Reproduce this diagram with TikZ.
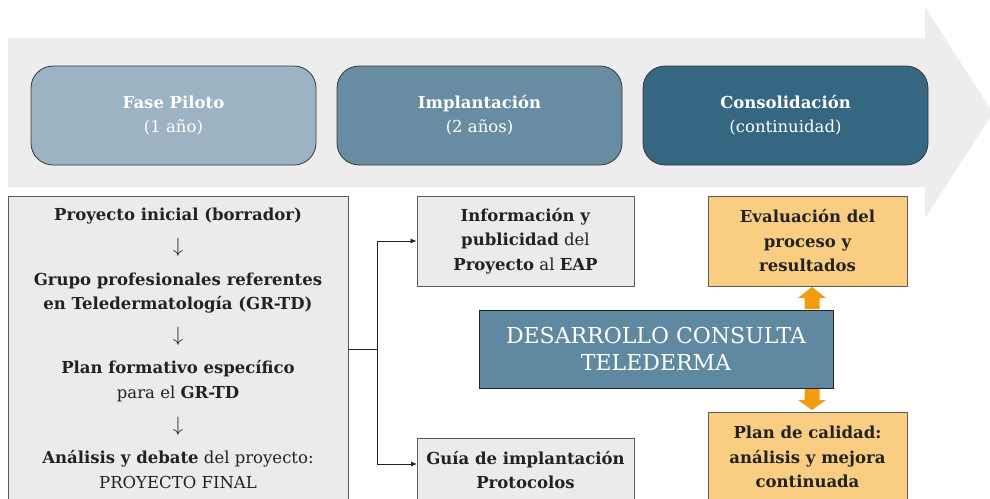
\documentclass[tikz,border=0pt]{standalone}
\usepackage{fontspec}
\setmainfont{DejaVu Serif}
\usetikzlibrary{arrows.meta}
\definecolor{band}{HTML}{EDEDED}
\definecolor{phaseA}{HTML}{9CB3C3}
\definecolor{phaseB}{HTML}{688DA3}
\definecolor{phaseC}{HTML}{356783}
\definecolor{boxgray}{HTML}{EAEBEA}
\definecolor{boxline}{HTML}{5A5A5A}
\definecolor{desa}{HTML}{5F88A1}
\definecolor{ocre}{HTML}{F9CE82}
\definecolor{orangearr}{HTML}{F39C12}
\definecolor{ink}{HTML}{222222}
\tikzset{
  phase/.style={draw=ink!90, line width=0.8pt, rounded corners=22pt, minimum width=285pt, minimum height=99pt, text=white, align=center, font=\fontsize{16.5}{24}\selectfont, inner sep=0pt},
  graybox/.style={draw=boxline, line width=0.9pt, fill=boxgray, align=center, text=ink, font=\fontsize{16.5}{24.5}\selectfont, inner sep=0pt},
  ocrebox/.style={draw=boxline, line width=0.9pt, fill=ocre, align=center, text=ink, font=\fontsize{16.5}{24.5}\selectfont\bfseries, inner sep=0pt},
  conn/.style={draw=ink, line width=0.8pt},
  txt/.style={align=center, text=ink, font=\fontsize{16.5}{24.5}\selectfont, inner sep=0pt},
  downmark/.style={align=center, text=ink, font=\fontsize{21}{24}\selectfont, inner sep=0pt}
}
\begin{document}
\begin{tikzpicture}[x=1pt,y=-1pt]
\useasboundingbox (0,0) rectangle (990,498);
\clip (0,0) rectangle (990,498);
% big background arrow
\fill[band] (8,38) -- (925,38) -- (925,7) -- (993,113) -- (925,218) -- (925,187) -- (8,187) -- cycle;
% phases
\node[phase, fill=phaseA] (p1) at (173.5,115.5) {\textbf{Fase Piloto}\\(1 año)};
\node[phase, fill=phaseB] (p2) at (479.5,115.5) {\textbf{Implantación}\\(2 años)};
\node[phase, fill=phaseC] (p3) at (785.5,115.5) {\textbf{Consolidación}\\(continuidad)};
% left box
\node[graybox, minimum width=340pt, minimum height=306pt] (left) at (178,349) {};
\node[txt] (l1) at (178,216) {\textbf{Proyecto inicial (borrador)}};
\node[downmark] (a1) at (178,247) {$\downarrow$};
\node[txt] (l2) at (178,293) {\textbf{Grupo profesionales referentes}\\\textbf{en Teledermatología (GR-TD)}};
\node[downmark] (a2) at (178,336) {$\downarrow$};
\node[txt] (l3) at (178,381) {\textbf{Plan formativo específico}\\para el \textbf{GR-TD}};
\node[downmark] (a3) at (178,426) {$\downarrow$};
\node[txt] (l4) at (178,469.5) {\textbf{Análisis y debate} del proyecto:\\PROYECTO FINAL};
% middle boxes
\node[graybox, minimum width=217pt, minimum height=90pt] (info) at (525.5,241) {\textbf{Información y}\\\textbf{publicidad} del\\\textbf{Proyecto} al \textbf{EAP}};
\node[graybox, minimum width=217pt, minimum height=64pt] (guia) at (525.5,470) {\textbf{Guía de implantación}\\\textbf{Protocolos}};
\node[draw=ink, line width=0.9pt, fill=desa, minimum width=354pt, minimum height=78pt, text=white, align=center, font=\fontsize{22}{27}\selectfont, inner sep=0pt] (core) at (656,349) {DESARROLLO CONSULTA\\TELEDERMA};
% right boxes
\node[ocrebox, minimum width=199pt, minimum height=90pt] (eval) at (807.5,241) {Evaluación del\\proceso y\\resultados};
\node[ocrebox, minimum width=199pt, minimum height=90pt] (plan) at (807.5,457) {Plan de calidad:\\análisis y mejora\\continuada};
% connectors
\coordinate (j) at (377,349);
\coordinate (jb) at (417,464);
\draw[conn] (left.east |- j) -- (j);
\draw[conn, -{Latex[length=6pt,width=5pt]}] (j) |- (info.west);
\draw[conn, -{Latex[length=6pt,width=5pt]}] (j) |- (jb);
% orange block arrows
\coordinate (ua) at (812,310);
\coordinate (da) at (812,388);
\fill[orangearr] (ua) ++(-7.5,-1) -- ++(0,-11) -- ++(-6.5,0) -- ++(14,-11) -- ++(14,11) -- ++(-6.5,0) -- ++(0,11) -- cycle;
\fill[orangearr] (da) ++(-7.5,1) -- ++(0,11) -- ++(-6.5,0) -- ++(14,10) -- ++(14,-10) -- ++(-6.5,0) -- ++(0,-11) -- cycle;
\end{tikzpicture}
\end{document}
